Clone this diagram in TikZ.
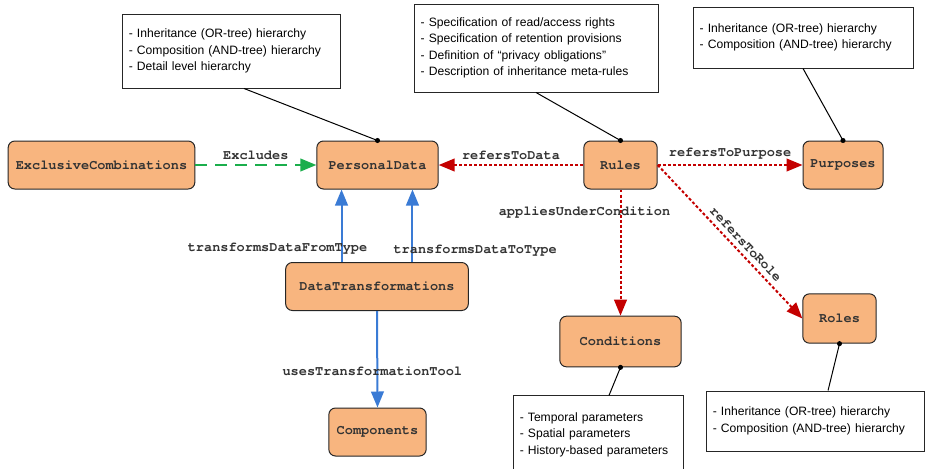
\documentclass[tikz,border=0pt]{standalone}
\usepackage{fontspec}
\setsansfont{Liberation Sans}
\setmonofont{TeX Gyre Cursor}
\usepackage{xcolor}
\usetikzlibrary{arrows.meta, positioning, calc}
\definecolor{entfill}{HTML}{F8B57F}
\definecolor{exgreen}{HTML}{1BAE4C}
\definecolor{refred}{HTML}{C40000}
\definecolor{trblue}{HTML}{3A7BD5}
\newcommand{\notePin}[2]{%
	\draw[line width=0.75pt] (#1) -- (#2);
	\fill (#1) circle (1.9pt);}

\begin{document}
\begin{tikzpicture}[x=0.75pt, y=-0.75pt,
	entity/.style={draw=black!85, line width=0.75pt, fill=entfill, rounded corners=5pt,
		font=\ttfamily\bfseries\fontsize{10.2}{12}\selectfont, text=black!80, minimum height=36pt},
	note/.style={draw=black!85, line width=0.75pt, fill=white, align=left, inner xsep=5pt,
		font=\sffamily\fontsize{9.1}{12.4}\selectfont},
	lbl/.style={font=\ttfamily\bfseries\fontsize{10.2}{12}\selectfont, text=black!80},
	excl/.style={exgreen, line width=1.5pt, dash pattern=on 9pt off 6pt, -{Triangle[length=12pt,width=9.5pt]}},
	refs/.style={refred, line width=1.5pt, dash pattern=on 2.2pt off 1.6pt, -{Triangle[length=12pt,width=9.5pt]}},
	trans/.style={trblue, line width=1.5pt, -{Triangle[length=12pt,width=9.5pt]}}]
	\useasboundingbox (0,0) rectangle (927,468);
	\node[entity, minimum width=140pt] (excomb) at (101.5,165) {ExclusiveCombinations};
	\node[entity, minimum width=91pt] (pdata) at (377.5,165) {PersonalData};
	\node[entity, minimum width=55pt] (rules) at (620.5,165) {Rules};
	\node[entity, minimum width=60pt] (purp) at (843,165) {Purposes};
	\node[entity, minimum width=137pt] (dtrans) at (377,286.5) {DataTransformations};
	\node[entity, minimum width=73pt] (comp) at (377.5,432) {Components};
	\node[entity, minimum width=91pt, minimum height=38pt] (cond) at (620.5,341.5) {Conditions};
	\node[entity, minimum width=55pt, minimum height=37pt] (roles) at (839.5,318.5) {Roles};
	\node[note, text width=154pt, minimum height=55.5pt] (pdnote) at (231.5,51)
		{- Inheritance (OR-tree) hierarchy\\- Composition (AND-tree) hierarchy\\- Detail level hierarchy};
	\node[note, text width=173pt, minimum height=66pt] (rulesnote) at (536,48)
		{- Specification of read/access rights\\- Specification of retention provisions\\- Definition of “privacy obligations”\\- Description of inheritance meta-rules};
	\node[note, text width=155pt, minimum height=45.75pt] (purpnote) at (803,37.5)
		{- Inheritance (OR-tree) hierarchy\\- Composition (AND-tree) hierarchy};
	\node[note, text width=118pt, minimum height=58pt] (condnote) at (598.5,434.5)
		{- Temporal parameters\\- Spatial parameters\\- History-based parameters};
	\node[note, text width=154pt, minimum height=45pt] (rolesnote) at (815.5,421)
		{- Inheritance (OR-tree) hierarchy\\- Composition (AND-tree) hierarchy};
	\notePin{pdata.north}{[xshift=9.4pt]pdnote.south}
	\notePin{rules.north}{rulesnote.south}
	\notePin{purp.north}{purpnote.south}
	\notePin{cond.south}{[xshift=7.9pt]condnote.north}
	\notePin{roles.south}{[xshift=9.4pt]rolesnote.north}
	\draw[excl] (excomb.east) -- node[lbl, above] {Excludes} (pdata.west);
	\draw[refs] (rules.west) -- node[lbl, above] {refersToData} (pdata.east);
	\draw[refs] (rules.east) -- node[lbl, above] {refersToPurpose} (purp.west);
	\draw[refs] (rules.south) -- node[lbl, pos=0.18, xshift=-27pt] {appliesUnderCondition} (cond.north);
	\draw[refs] (rules.east) -- node[lbl, pos=0.56, sloped, above] {refersToRole} (roles.west);
	\draw[trans] ([xshift=-26.6pt]dtrans.north) -- node[lbl, pos=0.18, xshift=-48pt] {transformsDataFromType} ([xshift=-26.6pt]dtrans.north |- pdata.south);
	\draw[trans] ([xshift=26.6pt]dtrans.north) -- node[lbl, pos=0.15, xshift=47pt] {transformsDataToType} ([xshift=26.6pt]dtrans.north |- pdata.south);
	\draw[trans] (dtrans.south) -- node[lbl, pos=0.62, xshift=-3.75pt] {usesTransformationTool} (comp.north);
\end{tikzpicture}
\end{document}
